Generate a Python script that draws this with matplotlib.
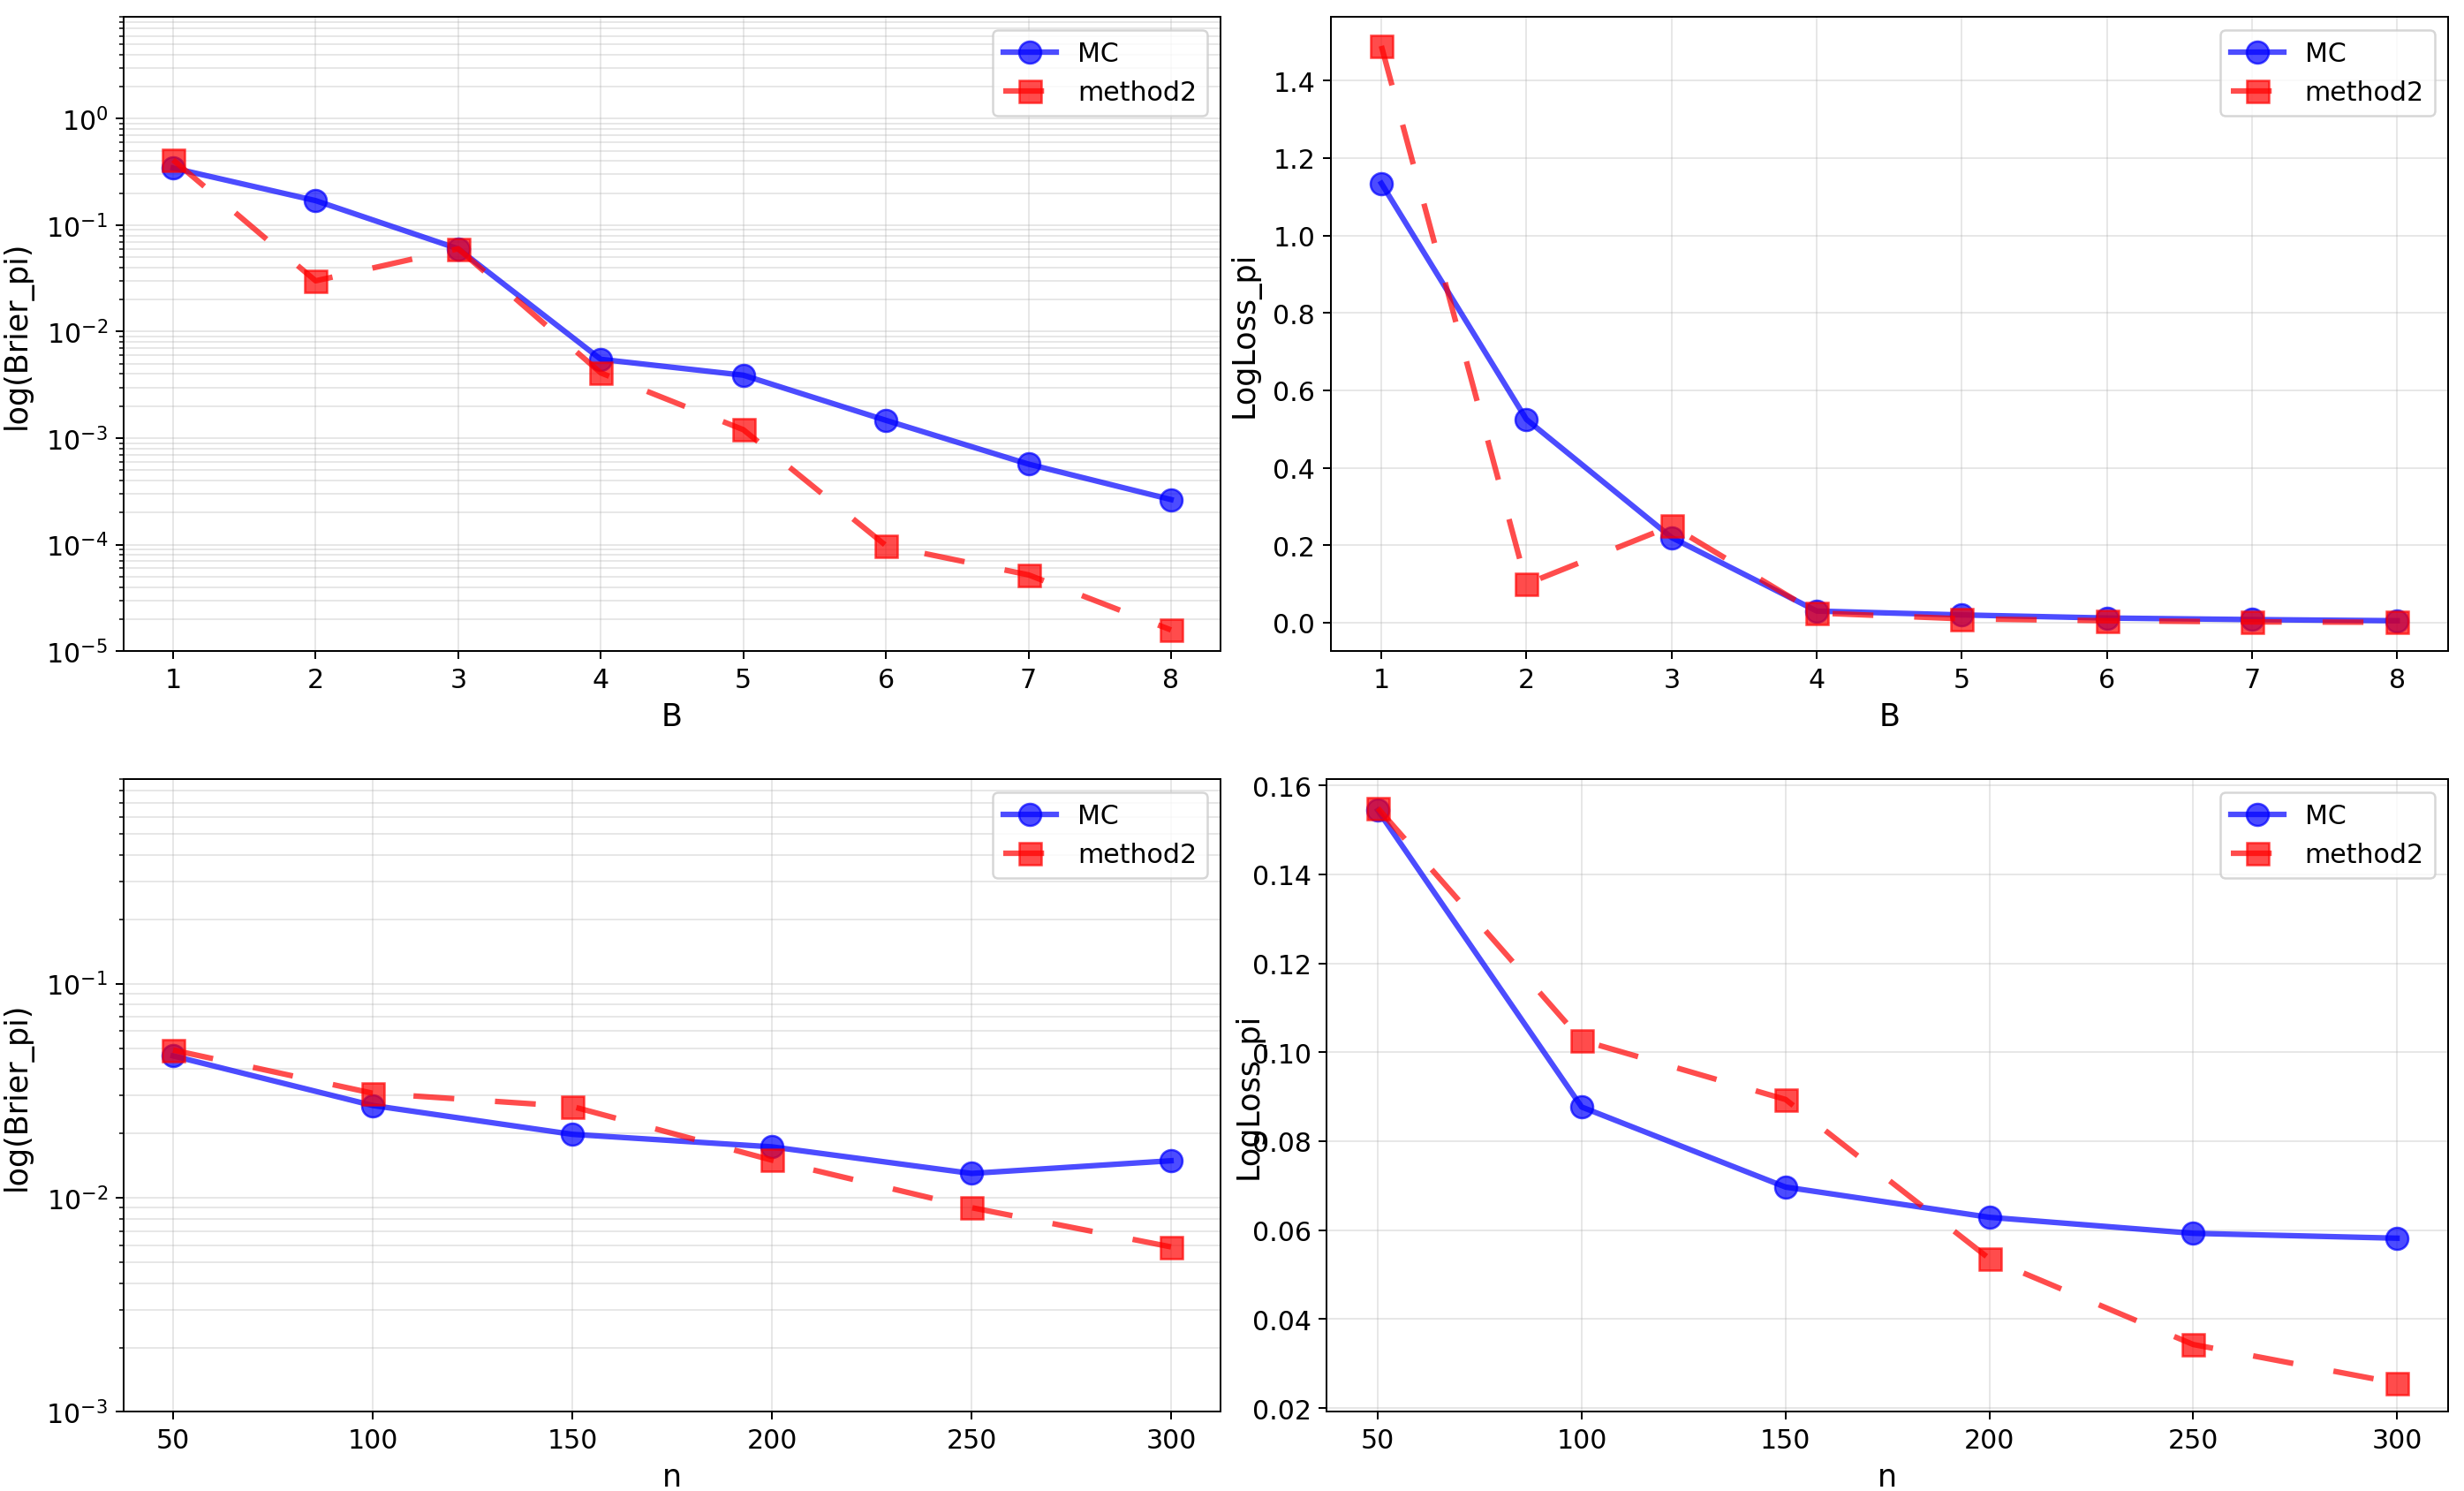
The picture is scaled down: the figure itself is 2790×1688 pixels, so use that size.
import numpy as np
import matplotlib
matplotlib.use("Agg")
import matplotlib.pyplot as plt

# datos
B = [1, 2, 3, 4, 5, 6, 7, 8]
n = [50, 100, 150, 200, 250, 300]

brier_B_mc = [0.344, 0.17, 0.060, 0.0055, 0.0039, 0.00147, 0.00057, 0.000265]
brier_B_m2 = [0.41, 0.030, 0.060, 0.0041, 0.0012, 0.000098, 0.000052, 0.0000158]

logloss_B_mc = [1.135, 0.525, 0.22, 0.03, 0.02, 0.012, 0.008, 0.005]
logloss_B_m2 = [1.49, 0.10, 0.25, 0.025, 0.01, 0.005, 0.002, 0.001]

brier_n_mc = [0.046, 0.027, 0.0198, 0.0173, 0.0130, 0.0149]
brier_n_m2 = [0.049, 0.0308, 0.0267, 0.0150, 0.0090, 0.0059]

logloss_n_mc = [0.1544, 0.0877, 0.0697, 0.0629, 0.0593, 0.0582]
logloss_n_m2 = [0.1549, 0.1027, 0.0894, 0.0536, 0.0343, 0.0256]

fig = plt.figure(figsize=(15.5, 9.383), dpi=180)
ax1 = fig.add_axes([0.050, 0.563, 0.4455, 0.425])
ax2 = fig.add_axes([0.540, 0.563, 0.4535, 0.425])
ax3 = fig.add_axes([0.050, 0.053, 0.4455, 0.424])
ax4 = fig.add_axes([0.5385, 0.053, 0.455, 0.424])

mc_style = dict(color='blue', marker='o', linestyle='-', linewidth=2.5, markersize=10, alpha=0.7, label='MC')
m2_style = dict(color='red', marker='s', linestyle='--', linewidth=2.5, markersize=10, alpha=0.7,
                dashes=(7.4, 7.4), label='method2')

def dibujar(ax, x, y_mc, y_m2, xlabel, ylabel, log, labx):
    ax.plot(x, y_mc, **mc_style)
    ax.plot(x, y_m2, **m2_style)
    ax.set_xlabel(xlabel, fontsize=14)
    ax.set_ylabel(ylabel, fontsize=14)
    ax.yaxis.set_label_coords(labx, 0.5)
    ax.set_xticks(x)
    ax.tick_params(labelsize=12)
    if log:
        ax.set_yscale('log')
        ax.grid(True, which='both', alpha=0.3)
    else:
        ax.grid(True, alpha=0.3)
    ax.legend(loc='upper right', fontsize=12)

dibujar(ax1, B, brier_B_mc, brier_B_m2, 'B', 'log(Brier_pi)', True, -0.083)
ax1.set_ylim(1e-5, 9)
dibujar(ax2, B, logloss_B_mc, logloss_B_m2, 'B', 'LogLoss_pi', False, -0.063)
dibujar(ax3, n, brier_n_mc, brier_n_m2, 'n', 'log(Brier_pi)', True, -0.083)
ax3.set_ylim(1e-3, 0.9)
dibujar(ax4, n, logloss_n_mc, logloss_n_m2, 'n', 'LogLoss_pi', False, -0.056)

fig.savefig('out.png', dpi=180)
